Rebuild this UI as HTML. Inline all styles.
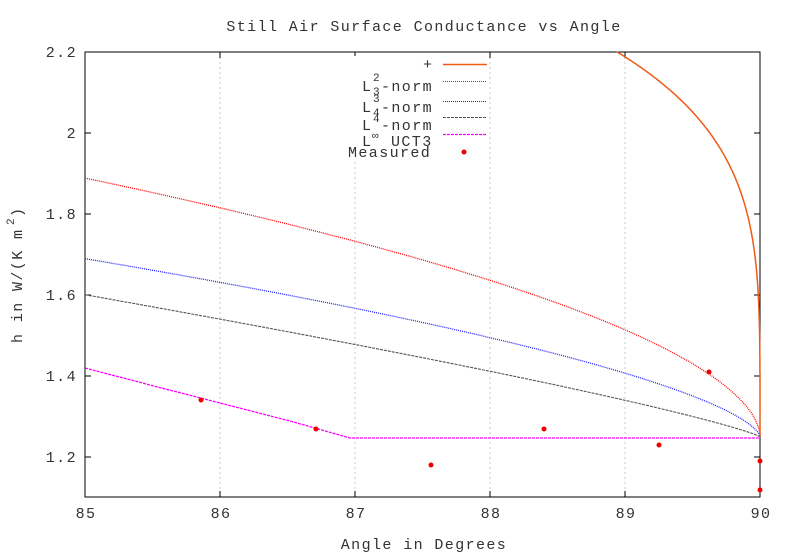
<!DOCTYPE html>
<html><head><meta charset="utf-8"><style>
body{margin:0;background:#fff}
svg text{font-family:"Liberation Mono","DejaVu Sans Mono",monospace;font-size:15px;fill:#333;letter-spacing:1.4px}
svg text.s{font-size:11px;letter-spacing:0}
</style></head><body>
<svg id="s" width="792" height="554" xmlns="http://www.w3.org/2000/svg">
<rect width="792" height="554" fill="#fff"/>
<g stroke="#c8c8c8" stroke-dasharray="2,3" stroke-width="1">
<line x1="220" y1="52" x2="220" y2="497"/><line x1="355" y1="52" x2="355" y2="497"/>
<line x1="490" y1="52" x2="490" y2="497"/><line x1="625" y1="52" x2="625" y2="497"/>
</g>
<rect x="85" y="52" width="675" height="445" fill="none" stroke="#000"/>
<g id="ticks" stroke="#000"></g>
<g text-anchor="end">
<text x="77" y="57">2.2</text><text x="77" y="138">2</text><text x="77" y="219">1.8</text>
<text x="77" y="300">1.6</text><text x="77" y="381">1.4</text><text x="77" y="462">1.2</text>
</g>
<g text-anchor="middle">
<text x="86" y="518">85</text><text x="221" y="518">86</text><text x="356" y="518">87</text>
<text x="491" y="518">88</text><text x="626" y="518">89</text><text x="761" y="518">90</text>
<text x="424" y="549">Angle in Degrees</text>
<text x="424" y="31">Still Air Surface Conductance vs Angle</text>
</g>
<text transform="translate(22,343) rotate(-90)">h in W/(K m</text>
<text class="s" transform="translate(14,225) rotate(-90)">2</text>
<text transform="translate(22,217) rotate(-90)">)</text>
<g id="curves" fill="none"></g>
<rect x="340" y="56" width="95" height="104" fill="#fff"/>
<text x="423" y="69">+</text>
<text x="362" y="91">L</text><text x="381" y="91">-norm</text>
<text x="362" y="112">L</text><text x="381" y="112">-norm</text>
<text x="362" y="130">L</text><text x="381" y="130">-norm</text>
<text x="362" y="146">L</text><text x="391" y="146">UCT3</text>
<text x="348" y="157">Measured</text>
<text class="s" x="373" y="81">2</text><text class="s" x="373" y="95">3</text>
<text class="s" x="373" y="102">3</text><text class="s" x="373" y="116">4</text>
<text class="s" x="373" y="122">4</text>
<text class="s" x="372" y="139">∞</text>
<line x1="443" y1="64.5" x2="487" y2="64.5" stroke="#f05a14" stroke-width="1.5"/>
<line x1="443" y1="81.5" x2="487" y2="81.5" stroke="#f00" stroke-width="1" stroke-dasharray="1,1"/>
<line x1="443" y1="101.5" x2="487" y2="101.5" stroke="#22f" stroke-width="1" stroke-dasharray="1,1"/>
<line x1="443" y1="117.5" x2="487" y2="117.5" stroke="#555" stroke-dasharray="3,1"/>
<line x1="443" y1="134.5" x2="487" y2="134.5" stroke="#f0f" stroke-width="1.3" stroke-dasharray="3,1"/>
<circle cx="464" cy="152" r="2.5" fill="#e00"/>
<g fill="#e00">
<circle cx="201" cy="400" r="2.5"/><circle cx="316" cy="429" r="2.5"/><circle cx="431" cy="465" r="2.5"/>
<circle cx="544" cy="429" r="2.5"/><circle cx="659" cy="445" r="2.5"/><circle cx="709" cy="372" r="2.5"/>
<circle cx="760" cy="461" r="2.5"/><circle cx="760" cy="490" r="2.5"/>
</g>
</svg>
<script>
var NS="http://www.w3.org/2000/svg";
function px(x){return 85+(x-85)*135}function py(y){return 457-(y-1.2)*405}
var cg=document.getElementById('curves'),tg=document.getElementById('ticks');
function path(pts,st,da,w){var p=document.createElementNS(NS,'path');p.setAttribute('d','M'+pts.map(function(a){return a[0].toFixed(1)+','+a[1].toFixed(1)}).join('L'));p.setAttribute('stroke',st);p.setAttribute('stroke-width',w||1.2);if(da)p.setAttribute('stroke-dasharray',da);cg.appendChild(p)}
function curve(k,p,st,da,w,dmax){var pts=[];for(var i=0;i<=400;i++){var d=dmax*Math.pow(1-i/400,2);pts.push([px(90-d),py(1.25+k*Math.pow(d,p))])}path(pts,st,da,w)}
curve(0.264,0.549,'#f00','1,1',1.3,5);
curve(0.157,0.64,'#22f','1,1',1.3,5);
curve(0.09,0.845,'#555','3,1',1.1,5);
curve(0.938,0.226,'#f05a14','',1.5,1.06);
path([[85,368],[150,385],[220,403],[290,421],[350,438],[760,438]],'#f0f','3,1',1.3);
for(var i=0;i<6;i++){var x=85+i*135;[[x,497,x,491],[x,52,x,58]].forEach(function(c){var l=document.createElementNS(NS,'line');l.setAttribute('x1',c[0]);l.setAttribute('y1',c[1]);l.setAttribute('x2',c[2]);l.setAttribute('y2',c[3]);tg.appendChild(l)})}
for(var j=0;j<6;j++){var y=52+j*81;[[85,y,91,y],[760,y,754,y]].forEach(function(c){var l=document.createElementNS(NS,'line');l.setAttribute('x1',c[0]);l.setAttribute('y1',c[1]);l.setAttribute('x2',c[2]);l.setAttribute('y2',c[3]);tg.appendChild(l)})}
</script>
</body></html>
